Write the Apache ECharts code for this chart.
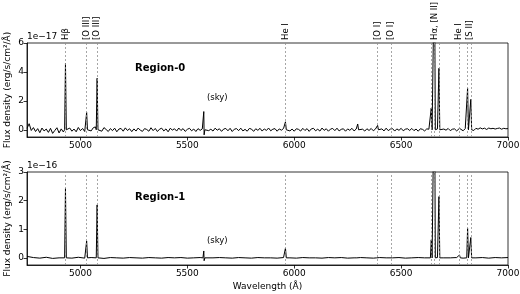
<!DOCTYPE html>
<html>
<head>
<meta charset="utf-8">
<script src="https://cdn.jsdelivr.net/npm/echarts@6/dist/echarts.min.js"></script>
<style>
  html, body { margin: 0; padding: 0; background: #fff; }
  #chart { width: 520px; height: 294px; }
</style>
</head>
<body>
<div id="chart"></div>
<script>
// wavelength range (Angstrom) and tick labels
const wlMin = 4750, wlMax = 7000;
const xTicks = [5000, 5500, 6000, 6500, 7000];
const yTicks0 = [0, 2, 4, 6];
const yTicks1 = [0, 1, 2, 3];

// continuum samples (flux); region 0 every 10 A, region 1 every 30 A
const contStep0 = 10;
const cont0 = [
  0.1, 0.42, -0.05, 0.15, -0.12, 0.08, -0.2, 0.12, -0.08, 0.05,
  -0.18, 0.1, -0.25, -0.05, 0.14, -0.22, 0.06, -0.15, 0.1, -0.08,
  0.12, -0.1, 0.05, -0.14, 0.16, -0.06, 0.09, -0.12, 0.04, 0.1,
  -0.08, 0.14, 0.2, -0.04, 0.12, -0.1, 0.15, 0.02, -0.12, 0.08,
  -0.06, 0.11, -0.14, 0.05, 0.09, -0.1, 0.13, -0.05, 0.07, -0.13,
  0.06, -0.09, 0.12, -0.03, -0.11, 0.08, 0.02, -0.1, 0.14, -0.06,
  0.09, -0.12, 0.04, 0.11, -0.08, 0.06, -0.14, 0.1, -0.02, 0.07,
  -0.09, 0.12, -0.05, 0.08, -0.11, 0.03, 0.1, -0.07, 0.05, -0.12,
  0.08, -0.04, 0.06, -0.1, 0.12, -0.06, 0.04, -0.09, 0.11, -0.03,
  0.07, -0.11, 0.05, 0.09, -0.07, 0.1, -0.12, 0.04, 0.08, -0.06,
  0.11, -0.08, 0.03, -0.1, 0.09, 0.05, -0.11, 0.07, -0.04, 0.1,
  -0.09, 0.06, -0.05, 0.12, -0.07, 0.04, 0.08, -0.1, 0.06, -0.03,
  0.09, -0.06, 0.11, -0.08, 0.05, -0.1, 0.07, 0.03, -0.09, 0.1,
  -0.05, 0.08, -0.11, 0.06, 0.1, -0.07, 0.04, -0.09, 0.12, -0.04,
  0.07, -0.1, 0.05, 0.09, -0.06, 0.11, -0.08, 0.03, 0.07, -0.1,
  0.06, -0.04, 0.1, -0.08, 0.05, 0.08, -0.06, 0.04, -0.09, 0.07,
  -0.05, 0.09, -0.07, 0.05, 0.1, -0.04, 0.06, -0.08, 0.11, -0.06,
  0.05, 0.08, -0.09, 0.06, -0.04, 0.1, -0.07, 0.04, 0.07, -0.05,
  0.09, -0.06, 0.05, -0.1, 0.07, 0.03, -0.08, 0.06, 0.04, -0.05,
  0.07, -0.04, 0.06, 0.08, -0.07, 0.05, -0.03, 0.09, -0.06, 0.04,
  0.06, -0.08, 0.05, 0.03, -0.07, 0.08, -0.04, 0.06, 0.02, -0.05,
  0.1, 0.04, 0.13, 0.06, 0.11, 0.02, 0.12, 0.07, 0.1, 0.05,
  0.09, 0.12, 0.04, 0.1, 0.07, 0.08
];
const contStep1 = 30;
const cont1 = [
  0.05, 0.01, -0.01, 0.02, -0.02, 0.0, 0.01, -0.01, 0.02, -0.01,
  0.01, 0.0, -0.02, 0.01, 0.0, -0.01, 0.01, 0.0, -0.01, 0.01,
  0.0, -0.01, 0.01, 0.0, 0.01, -0.01, 0.0, 0.01, -0.01, 0.0,
  0.01, 0.0, -0.01, 0.01, 0.0, -0.01, 0.01, 0.0, 0.0, -0.01,
  0.01, 0.0, -0.01, 0.01, 0.0, 0.0, -0.01, 0.01, 0.0, 0.01,
  -0.01, 0.0, 0.01, 0.0, -0.01, 0.01, 0.0, 0.0, 0.01, -0.01,
  0.0, 0.01, 0.0, -0.01, 0.01, 0.0, 0.0, 0.01, -0.01, 0.01,
  0.0, 0.01, -0.01, 0.01, 0.0, 0.01
];

// emission line peaks (observed wavelength, peak flux per region)
const lineWl = [4930, 5029, 5078, 5959, 6297, 6390, 6641, 6656, 6677, 6773, 6811, 6826];
const peak0 = [4.6, 1.2, 3.56, 0.55, 0.4, 0.3, 1.5, 12, 4.25, 0.1, 2.87, 2.1];
const peak1 = [2.43, 0.59, 1.85, 0.34, 0.06, 0.05, 0.63, 7, 2.14, 0.1, 1.03, 0.71];

// sky line residual
const skyWl = 5577;
const skyPeak = [1.26, 0.24];
const skyDip = [-0.35, -0.1];

// dashed markers and their labels
const markWl = [4930, 5029, 5078, 5959, 6390, 6454, 6641, 6656, 6677, 6773, 6811, 6826];
const markLabelWl = [4930, 5029, 5078, 5959, 6390, 6454, 6659, 6771, 6819];
const markLabels = ["Hβ", "[O III]", "[O III]", "He I", "[O I]", "[O I]", "Hα, [N II]", "He I", "[S II]"];

const regionNames = ["Region-0", "Region-1"];

const FONT = "DejaVu Sans";

function buildSpectrum(cont, step, peaks, k) {
  const pts = [];
  cont.forEach((v, i) => {
    const wl = wlMin + i * step;
    if (lineWl.some(c => Math.abs(wl - c) < 6) || Math.abs(wl - skyWl) < 7) return;
    pts.push([wl, v]);
  });
  lineWl.forEach((c, i) => {
    pts.push([c - 4, 0], [c, peaks[i]], [c + 4, 0]);
  });
  pts.push([skyWl - 4, 0], [skyWl, skyPeak[k]], [skyWl + 1.5, skyDip[k]], [skyWl + 5, 0]);
  return pts.sort((a, b) => a[0] - b[0]);
}

const chart = echarts.init(document.getElementById("chart"), null, { renderer: "canvas" });

const grids = [
  { left: 27, right: 12, top: 43, height: 94 },
  { left: 27, right: 12, top: 172, height: 93 }
];

const xAxis = (gi, name) => ({
  type: "value",
  gridIndex: gi,
  min: wlMin,
  max: wlMax,
  name: name,
  nameLocation: "middle",
  nameGap: 17,
  nameTextStyle: { fontFamily: FONT, fontSize: 9, color: "#000" },
  axisLine: { onZero: false, lineStyle: { color: "#000", width: 0.8 } },
  axisTick: { customValues: xTicks, length: 3.5, lineStyle: { color: "#000", width: 0.8 } },
  axisLabel: { customValues: xTicks, formatter: v => String(v), fontFamily: FONT, fontSize: 9, color: "#000", margin: 4 },
  splitLine: { show: false }
});

const yAxis = (gi, min, max, ticks) => ({
  type: "value",
  gridIndex: gi,
  min: min,
  max: max,
  name: "Flux density (erg/s/cm²/Å)",
  nameLocation: "middle",
  nameGap: 15,
  nameMoveOverlap: false,
  nameTextStyle: { fontFamily: FONT, fontSize: 9, color: "#000" },
  axisLine: { onZero: false, lineStyle: { color: "#000", width: 0.8 } },
  axisTick: { customValues: ticks, length: 3.5, lineStyle: { color: "#000", width: 0.8 } },
  axisLabel: { customValues: ticks, formatter: v => String(v), fontFamily: FONT, fontSize: 9, color: "#000", margin: 3 },
  splitLine: { show: false }
});

const markLine = {
  silent: true,
  symbol: "none",
  label: { show: false },
  lineStyle: { type: [2, 2], color: "#909090", width: 0.8 },
  data: markWl.map(w => ({ xAxis: w }))
};

chart.setOption({
  animation: false,
  grid: grids.map(g => ({
    ...g, show: true, borderColor: "#000", borderWidth: 0.8,
    backgroundColor: "transparent", containLabel: false, outerBoundsMode: "none"
  })),
  xAxis: [xAxis(0, ""), xAxis(1, "Wavelength (Å)")],
  yAxis: [yAxis(0, -0.5, 6, yTicks0), yAxis(1, -0.25, 3, yTicks1)],
  series: [
    {
      type: "line", xAxisIndex: 0, yAxisIndex: 0,
      data: buildSpectrum(cont0, contStep0, peak0, 0),
      smooth: false, showSymbol: false, lineStyle: { color: "#000", width: 1 },
      markLine: markLine
    },
    {
      type: "line", xAxisIndex: 1, yAxisIndex: 1,
      data: buildSpectrum(cont1, contStep1, peak1, 1),
      smooth: false, showSymbol: false, lineStyle: { color: "#000", width: 1 },
      markLine: markLine
    }
  ]
});

// texts placed from data coordinates
const px = (gi, wl, y) => chart.convertToPixel({ xAxisIndex: gi, yAxisIndex: gi }, [wl, y]);
const graphic = [];
markLabelWl.forEach((w, i) => {
  const p = px(0, w, 6);
  graphic.push({
    type: "text", x: p[0], y: p[1] - 3, rotation: Math.PI / 2,
    style: { text: markLabels[i], fontFamily: FONT, fontSize: 8.5, fill: "#000", align: "left", verticalAlign: "middle" }
  });
});
[["1e−17", 0, 6], ["1e−16", 1, 3]].forEach(([t, gi, top]) => {
  const p = px(gi, wlMin, top);
  graphic.push({
    type: "text", x: p[0], y: p[1] - 6,
    style: { text: t, fontFamily: FONT, fontSize: 9, fill: "#000", align: "left", verticalAlign: "middle" }
  });
});
[[0, 4.27, 2.2], [1, 2.12, 0.59]].forEach(([gi, ry, sy]) => {
  const r = px(gi, 5373, ry);
  graphic.push({
    type: "text", x: r[0], y: r[1],
    style: { text: regionNames[gi], fontFamily: FONT, fontSize: 10, fontWeight: "bold", fill: "#000", align: "center", verticalAlign: "middle" }
  });
  const s = px(gi, 5640, sy);
  graphic.push({
    type: "text", x: s[0], y: s[1],
    style: { text: "(sky)", fontFamily: FONT, fontSize: 8.5, fill: "#000", align: "center", verticalAlign: "middle" }
  });
});
chart.setOption({ graphic: graphic });
</script>
</body>
</html>
